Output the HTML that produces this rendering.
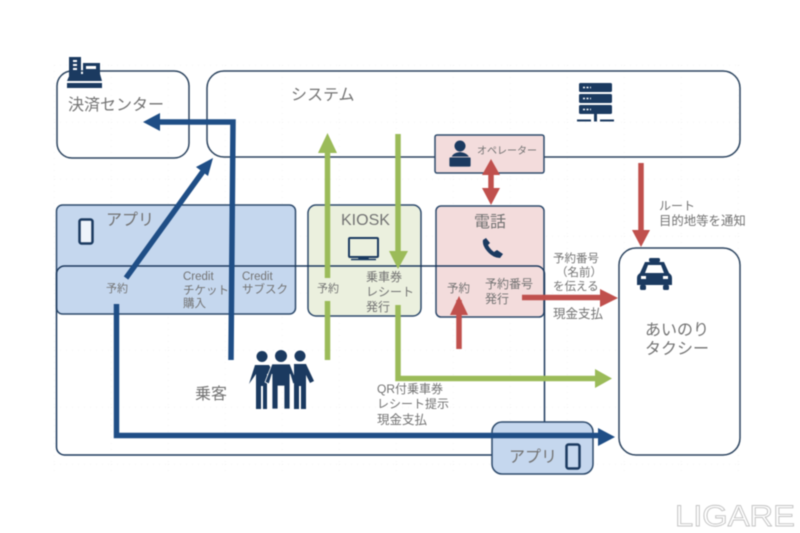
<!DOCTYPE html>
<html lang="ja">
<head>
<meta charset="utf-8">
<title>あいのりタクシー</title>
<style>
html,body{margin:0;padding:0;background:#fff;width:800px;height:533px;overflow:hidden}
svg{display:block;filter:blur(.55px)}
text{font-family:"Liberation Sans","Noto Sans CJK JP",sans-serif;fill:#737373}
</style>
</head>
<body>
<svg width="800" height="533" viewBox="0 0 800 533" xmlns="http://www.w3.org/2000/svg">
<defs>
<pattern id="g" width="57" height="57" patternUnits="userSpaceOnUse" x="-3" y="8">
<path d="M0 0V57M0 0H57" stroke="#d8d8d8" stroke-width=".8" stroke-dasharray="1 5" fill="none"/>
</pattern>
</defs>
<rect width="800" height="533" fill="#fff"/>
<rect x="54" y="65" width="690" height="410" fill="url(#g)" opacity=".6"/>

<!-- Colored panels -->
<rect x="56.500" y="205" width="239" height="109" rx="6" fill="#c5d7ee" stroke="#2d4a6c" stroke-width="1.500"/>
<rect x="308" y="205" width="113" height="111" rx="8" fill="#ebf0de" stroke="#2d4a6c" stroke-width="1.500"/>
<rect x="436" y="206" width="108" height="111" rx="5" fill="#f3dcdc" stroke="#2d4a6c" stroke-width="1.500"/>

<!-- Passenger outer box -->
<rect x="56.500" y="266" width="488" height="189" rx="8" fill="none" stroke="#1d3a5e" stroke-width="1.500"/>

<!-- Top boxes -->
<rect x="57" y="71" width="132" height="87" rx="15" fill="none" stroke="#2d4560" stroke-width="1.500"/>
<rect x="207" y="71" width="533" height="86" rx="17" fill="none" stroke="#2d4560" stroke-width="1.500"/>
<rect x="435" y="135" width="109" height="38" rx="2" fill="#f3dcdc" stroke="#2d4a6c" stroke-width="1.500"/>

<!-- Taxi and small app -->
<rect x="619" y="248" width="121" height="207" rx="17" fill="#fff" stroke="#2d4560" stroke-width="1.500"/>
<rect x="492" y="422" width="101" height="52" rx="10" fill="#c5d7ee" stroke="#2d4a6c" stroke-width="1.500"/>

<!-- Blue arrows -->
<g fill="none" stroke="#1f4e86" stroke-width="5.500">
<path d="M231 360L233 122H158"/>
<path d="M126 278L204 170"/>
<path d="M116.500 304V435.500H600"/>
</g>
<g fill="#1f4e86">
<path d="M143 122L160 113V131Z"/>
<path d="M213 158L208 176L196 167Z"/>
<path d="M615 437L598 428V446Z"/>
</g>

<!-- Green arrows -->
<g fill="none" stroke="#9bbb59" stroke-width="5.500">
<path d="M327.500 150V278M327.500 301V360"/>
<path d="M398 134V255M398 305V378.500H596"/>
</g>
<g fill="#9bbb59">
<path d="M327.500 133L337 153H318Z"/>
<path d="M398 269L389 251H408Z"/>
<path d="M612 378.500L595 369V388Z"/>
</g>

<!-- Red arrows -->
<g fill="none" stroke="#c0504d" stroke-width="5.500">
<path d="M491 172V192"/>
<path d="M459 300V349"/>
<path d="M522 297.500H600"/>
<path d="M641 163V232"/>
</g>
<g fill="#c0504d">
<path d="M491 159L482 175H500Z"/>
<path d="M491 205L482 188H500Z"/>
<path d="M459 296L450 315H468Z"/>
<path d="M618 298L600 289V307Z"/>
<path d="M641 247L632 230H650Z"/>
</g>

<!-- Icons -->
<g fill="#1b3a60">
<!-- register -->
<rect x="69" y="57" width="12" height="19"/>
<rect x="73" y="60" width="4" height="2" fill="#fff"/><rect x="73" y="64" width="4" height="2" fill="#fff"/><rect x="73" y="68" width="4" height="2" fill="#fff"/>
<rect x="83" y="63" width="17" height="11"/>
<rect x="86" y="66" width="10" height="3" fill="#fff"/>
<path d="M70 74H100L102 81H67Z"/>
<rect x="67" y="83" width="35" height="5"/>
<!-- server -->
<rect x="579" y="83" width="33" height="9" rx="1.500"/>
<rect x="579" y="94" width="33" height="9" rx="1.500"/>
<rect x="579" y="105" width="33" height="9" rx="1.500"/>
<path d="M583 87.500h8M583 98.500h8M583 109.500h8" stroke="#fff" stroke-width="1.500" stroke-dasharray="2 1.500"/>
<rect x="594" y="114" width="3" height="6"/>
<rect x="577" y="119.500" width="14" height="2"/>
<rect x="594" y="119.500" width="3" height="2"/>
<rect x="600" y="119.500" width="14" height="2"/>
<!-- people -->
<circle cx="262" cy="356.500" r="5.500"/>
<path d="M255 365H269L274 373L267 374V409H263V386H261V409H256V374L249 384Z"/>
<circle cx="281" cy="356" r="6"/>
<path d="M272 364H290L297 382L293 384L290 374V409H284V386H278V409H272V374L269 384L265 382Z" stroke="#fff" stroke-width=".8"/>
<circle cx="300" cy="356" r="5.500"/>
<path d="M294 364H306L314 381L310 383L306 375V409H301V386H299V409H294Z"/>
<!-- taxi -->
<rect x="649" y="258" width="11" height="4" rx="1.500"/>
<path d="M645 262H664L669 273Q672 275 672 278V285H637V278Q637 275 640 273Z"/>
<path d="M648 265H661L664 273H645Z" fill="#fff"/>
<rect x="640" y="285" width="6" height="5" rx="1.500"/>
<rect x="663" y="285" width="6" height="5" rx="1.500"/>
<rect x="641" y="276" width="5" height="3" fill="#fff"/>
<rect x="663" y="276" width="5" height="3" fill="#fff"/>
<!-- operator -->
<circle cx="460" cy="146" r="5.500"/>
<path d="M451 166V160Q451 153 460 152Q469 153 470 160V166Z"/>
<rect x="449" y="157" width="22" height="10" rx="1.500" stroke="#f3dcdc" stroke-width=".8"/>
</g>

<!-- Phone icons -->
<rect x="79.500" y="219.500" width="13" height="24" rx="2" fill="#eef3fa" stroke="#1b3a60" stroke-width="2.500"/>
<rect x="566.500" y="444.500" width="13" height="24" rx="2" fill="#c5d7ee" stroke="#1b3a60" stroke-width="2.500"/>

<!-- Monitor -->
<rect x="349" y="238" width="29" height="19" rx="1" fill="#ebf0de" stroke="#1b3a60" stroke-width="2"/>
<path d="M359 257V259H368V257Z M351 259.500H376" fill="#1b3a60" stroke="#1b3a60" stroke-width="1.500"/>

<!-- Handset -->
<path d="M483 240Q482 245 487 251Q493 258 500 258L503 254L497 250L494 252Q490 249 488 245L490 243L486 238Z" fill="#1b3a60"/>

<!-- Labels -->
<text x="68" y="110" font-size="16">決済センター</text>
<text x="291" y="100" font-size="16">システム</text>
<text x="106" y="225" font-size="16">アプリ</text>
<text x="341" y="225" font-size="16">KIOSK</text>
<text x="474" y="227" font-size="16">電話</text>
<text x="477" y="154" font-size="10">オペレーター</text>
<text x="106" y="292" font-size="11">予約</text>
<text x="183" y="280" font-size="11.500">Credit</text>
<text x="183" y="294" font-size="11.500">チケット</text>
<text x="183" y="307" font-size="11.500">購入</text>
<text x="242" y="280" font-size="11.500">Credit</text>
<text x="242" y="293" font-size="11.500">サブスク</text>
<text x="317" y="292" font-size="11">予約</text>
<text x="366" y="281" font-size="12">乗車券</text>
<text x="366" y="296" font-size="12">レシート</text>
<text x="366" y="311" font-size="12">発行</text>
<text x="447" y="292" font-size="11.500">予約</text>
<text x="485" y="288" font-size="12">予約番号</text>
<text x="485" y="303" font-size="12">発行</text>
<text x="553" y="262" font-size="11.500">予約番号</text>
<text x="556" y="276" font-size="11.500">（名前）</text>
<text x="553" y="290" font-size="11.500">を伝える</text>
<text x="553" y="318" font-size="12.500">現金支払</text>
<text x="659" y="210" font-size="12">ルート</text>
<text x="659" y="225" font-size="12.400">目的地等を通知</text>
<text x="645" y="335" font-size="16">あいのり</text>
<text x="645" y="354" font-size="16">タクシー</text>
<text x="195" y="399" font-size="16">乗客</text>
<text x="377" y="393" font-size="12">QR付乗車券</text>
<text x="377" y="408" font-size="12">レシート提示</text>
<text x="377" y="424" font-size="12.500">現金支払</text>
<text x="509" y="462" font-size="16">アプリ</text>
<text x="675" y="526" font-size="30" textLength="120" lengthAdjust="spacingAndGlyphs" style="fill:#fff;stroke:#c4c4c4;stroke-width:.9px">LIGARE</text>
</svg>
</body>
</html>
